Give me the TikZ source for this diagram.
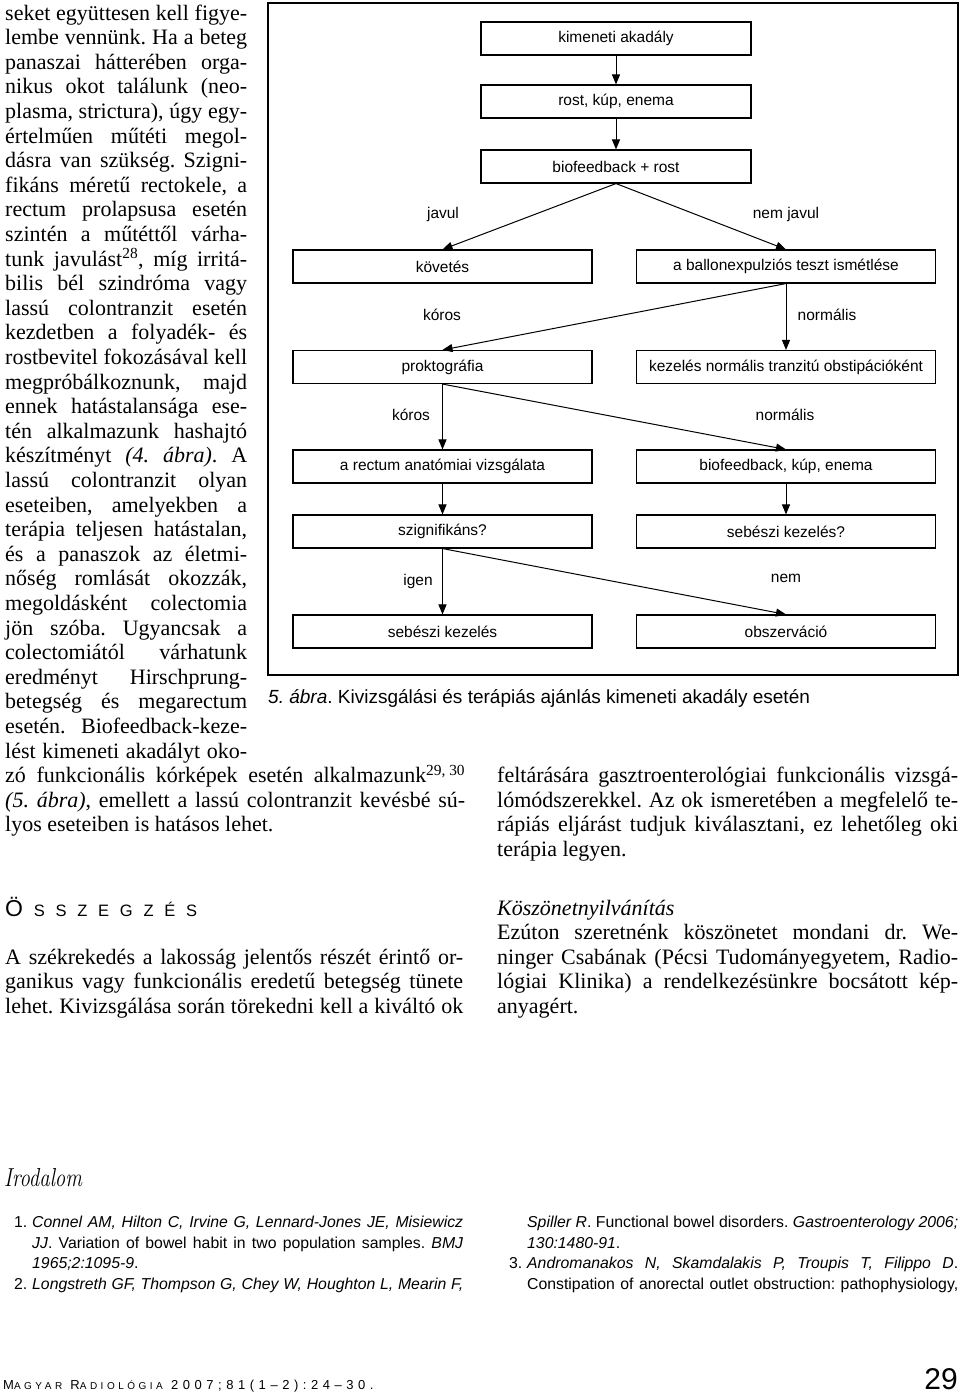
\documentclass[tikz,border=0pt]{standalone}
\usepackage{fontspec}
\setmainfont{Liberation Serif}
\newfontfamily\fsans{Liberation Sans}
\newfontfamily\refsans{Liberation Sans}
\newfontfamily\footsans[LetterSpace=35]{Liberation Sans}
\newfontfamily\irofont[FakeStretch=0.8]{Latin Modern Roman}
\usetikzlibrary{arrows.meta}
\frenchspacing
\newcommand\bodyfont{\fontsize{22}{24.6}\selectfont}
\newcommand\flowfont{\fsans\fontsize{15.5}{18}\selectfont}
\newcommand\reffont{\refsans\fontsize{15.8}{18}\selectfont}
\newcommand\jl[2]{\makebox[#1pt][s]{#2}}
\begin{document}
\begin{tikzpicture}[x=1pt,y=-1pt,
  box/.style={draw, line width=1.1pt, minimum width=299pt, minimum height=33pt, inner sep=0pt, font=\flowfont},
  topbox/.style={box, minimum width=270pt},
  lbl/.style={font=\flowfont, inner sep=0pt},
  arr/.style={line width=1pt, -{Triangle[length=10pt,width=8pt]}},
  txt/.style={anchor=base west, inner sep=0pt, font=\bodyfont},
  reft/.style={anchor=base west, inner sep=0pt, font=\reffont},
  ]
\fill[white] (0,0) rectangle (960,1393);
\useasboundingbox (0,0) rectangle (960,1393);

% ---------- figure frame ----------
\draw[line width=1.5pt] (268,3) rectangle (958,675);

% ---------- flowchart boxes ----------
\node[topbox] (k1) at (616,38.5) {kimeneti akadály};
\node[topbox] (k2) at (616,101.5) {rost, kúp, enema};
\node[topbox] (k3) at (616,166.5) {biofeedback + rost};
\node[box] (kov) at (442.5,266.5) {követés};
\node[box] (bal) at (786,266.5) {a ballonexpulziós teszt ismétlése};
\node[box] (prok) at (442.5,367) {proktográfia};
\node[box] (kez) at (786,367) {kezelés normális tranzitú obstipációként};
\node[box] (rect) at (442.5,466.5) {a rectum anatómiai vizsgálata};
\node[box] (bio) at (786,466.5) {biofeedback, kúp, enema};
\node[box] (szig) at (442.5,531.5) {szignifikáns?};
\node[box] (sebq) at (786,531.5) {sebészi kezelés?};
\node[box] (seb) at (442.5,631.5) {sebészi kezelés};
\node[box] (obs) at (786,631.5) {obszerváció};

% ---------- connectors ----------
\draw[arr] (k1.south) -- (k2.north);
\draw[arr] (k2.south) -- (k3.north);
\draw[arr] (k3.south) -- (kov.north);
\draw[arr] (k3.south) -- (bal.north);
\draw[arr] (bal.south) -- (prok.north);
\draw[arr] (bal.south) -- (kez.north);
\draw[arr] (prok.south) -- (rect.north);
\draw[arr] (prok.south) -- (bio.north);
\draw[arr] (rect.south) -- (szig.north);
\draw[arr] (bio.south) -- (sebq.north);
\draw[arr] (szig.south) -- (seb.north);
\draw[arr] (szig.south) -- (obs.north);

% ---------- connector labels ----------
\node[lbl] (lj) at (443,214) {javul};
\node[lbl] (lnj) at (786,214) {nem javul};
\node[lbl] (lk1) at (442,315) {kóros};
\node[lbl] (ln1) at (827,315) {normális};
\node[lbl] (lk2) at (411,415) {kóros};
\node[lbl] (ln2) at (785,415) {normális};
\node[lbl] (li) at (418,581) {igen};
\node[lbl] (ln) at (786,578) {nem};

% ---------- caption ----------
\node[anchor=base west, inner sep=0pt, font=\fsans\fontsize{19}{21}\selectfont] (cap) at (268,703)
  {\textit{5. ábra}. Kivizsgálási és terápiás ajánlás kimeneti akadály esetén};

% ---------- left column text ----------
\node[txt] (t1) at (5,20.0) {\jl{242}{seket együttesen kell figye-}};
\node[txt] (t2) at (5,44.6) {\jl{242}{lembe vennünk. Ha a beteg}};
\node[txt] (t3) at (5,69.2) {\jl{242}{panaszai hátterében orga-}};
\node[txt] (t4) at (5,93.8) {\jl{242}{nikus okot találunk (neo-}};
\node[txt] (t5) at (5,118.4) {\jl{242}{plasma, strictura), úgy egy-}};
\node[txt] (t6) at (5,143.0) {\jl{242}{értelműen műtéti megol-}};
\node[txt] (t7) at (5,167.6) {\jl{242}{dásra van szükség. Szigni-}};
\node[txt] (t8) at (5,192.2) {\jl{242}{fikáns méretű rectokele, a}};
\node[txt] (t9) at (5,216.8) {\jl{242}{rectum prolapsusa esetén}};
\node[txt] (t10) at (5,241.4) {\jl{242}{szintén a műtéttől várha-}};
\node[txt] (t11) at (5,266.0) {\jl{242}{tunk javulást\textsuperscript{28}, míg irritá-}};
\node[txt] (t12) at (5,290.6) {\jl{242}{bilis bél szindróma vagy}};
\node[txt] (t13) at (5,315.2) {\jl{242}{lassú colontranzit esetén}};
\node[txt] (t14) at (5,339.8) {\jl{242}{kezdetben a folyadék- és}};
\node[txt] (t15) at (5,364.4) {\jl{242}{rostbevitel fokozásával kell}};
\node[txt] (t16) at (5,389.0) {\jl{242}{megpróbálkoznunk, majd}};
\node[txt] (t17) at (5,413.6) {\jl{242}{ennek hatástalansága ese-}};
\node[txt] (t18) at (5,438.2) {\jl{242}{tén alkalmazunk hashajtó}};
\node[txt] (t19) at (5,462.8) {\jl{242}{készítményt \textit{(4. ábra)}. A}};
\node[txt] (t20) at (5,487.4) {\jl{242}{lassú colontranzit olyan}};
\node[txt] (t21) at (5,512.0) {\jl{242}{eseteiben, amelyekben a}};
\node[txt] (t22) at (5,536.6) {\jl{242}{terápia teljesen hatástalan,}};
\node[txt] (t23) at (5,561.2) {\jl{242}{és a panaszok az életmi-}};
\node[txt] (t24) at (5,585.8) {\jl{242}{nőség romlását okozzák,}};
\node[txt] (t25) at (5,610.4) {\jl{242}{megoldásként colectomia}};
\node[txt] (t26) at (5,635.0) {\jl{242}{jön szóba. Ugyancsak a}};
\node[txt] (t27) at (5,659.6) {\jl{242}{colectomiától várhatunk}};
\node[txt] (t28) at (5,684.2) {\jl{242}{eredményt Hirschprung-}};
\node[txt] (t29) at (5,708.8) {\jl{242}{betegség és megarectum}};
\node[txt] (t30) at (5,733.4) {\jl{242}{esetén. Biofeedback-keze-}};
\node[txt] (t31) at (5,758.0) {\jl{242}{lést kimeneti akadályt oko-}};
\node[txt] (t32) at (5,782.6) {\jl{460}{zó funkcionális kórképek esetén alkalmazunk\textsuperscript{29, 30}}};
\node[txt] (t33) at (5,807.2) {\jl{460}{\textit{(5. ábra)}, emellett a lassú colontranzit kevésbé sú-}};
\node[txt] (t34) at (5,831.8) {lyos eseteiben is hatásos lehet.};

% ---------- right column text ----------
\node[txt] (r1) at (497,782.6) {\jl{461}{feltárására gasztroenterológiai funkcionális vizsgá-}};
\node[txt] (r2) at (497,807.2) {\jl{461}{lómódszerekkel. Az ok ismeretében a megfelelő te-}};
\node[txt] (r3) at (497,831.8) {\jl{461}{rápiás eljárást tudjuk kiválasztani, ez lehetőleg oki}};
\node[txt] (r4) at (497,856.4) {terápia legyen.};
\node[txt] (r5) at (497,915) {\textit{Köszönetnyilvánítás}};
\node[txt] (r6) at (497,939.6) {\jl{461}{Ezúton szeretnénk köszönetet mondani dr. We-}};
\node[txt] (r7) at (497,964.2) {\jl{461}{ninger Csabának (Pécsi Tudományegyetem, Radio-}};
\node[txt] (r8) at (497,988.8) {\jl{461}{lógiai Klinika) a rendelkezésünkre bocsátott kép-}};
\node[txt] (r9) at (497,1013.4) {anyagért.};

% ---------- summary ----------
\node[anchor=base west, inner sep=0pt, font=\fsans] (osz) at (5,916)
  {\makebox[192pt][s]{{\fontsize{23}{23}\selectfont Ö}\hfill{\fontsize{16.5}{16.5}\selectfont S\hfill S\hfill Z\hfill E\hfill G\hfill Z\hfill É\hfill S}}};
\node[txt] (s1) at (5,964.2) {\jl{458}{A székrekedés a lakosság jelentős részét érintő or-}};
\node[txt] (s2) at (5,988.8) {\jl{458}{ganikus vagy funkcionális eredetű betegség tünete}};
\node[txt] (s3) at (5,1013.4) {\jl{458}{lehet. Kivizsgálása során törekedni kell a kiváltó ok}};

% ---------- references ----------
\node[anchor=base west, inner sep=0pt, font=\irofont\itshape\fontsize{26}{26}\selectfont] (iro) at (4,1186) {Irodalom};
\node[reft] (n1) at (14,1227) {1.};
\node[reft] (f1) at (32,1227) {\jl{431}{\textit{Connel AM, Hilton C, Irvine G, Lennard-Jones JE, Misiewicz}}};
\node[reft] (f2) at (32,1248) {\jl{431}{\textit{JJ}. Variation of bowel habit in two population samples. \textit{BMJ}}};
\node[reft] (f3) at (32,1268.5) {\textit{1965;2:1095-9}.};
\node[reft] (n2) at (14,1289) {2.};
\node[reft] (f4) at (32,1289) {\jl{431}{\textit{Longstreth GF, Thompson G, Chey W, Houghton L, Mearin F,}}};
\node[reft] (g1) at (527,1227) {\jl{431}{\textit{Spiller R}. Functional bowel disorders. \textit{Gastroenterology 2006;}}};
\node[reft] (g2) at (527,1248) {\textit{130:1480-91}.};
\node[reft] (n3) at (509,1268.5) {3.};
\node[reft] (g3) at (527,1268.5) {\jl{431}{\textit{Andromanakos N, Skamdalakis P, Troupis T, Filippo D}.}};
\node[reft] (g4) at (527,1289) {\jl{431}{Constipation of anorectal outlet obstruction: pathophysiology,}};

% ---------- footer ----------
\node[anchor=base west, inner sep=0pt, font=\footsans\fontsize{13}{13}\selectfont] (foot) at (3,1389)
  {M{\fontsize{10}{10}\selectfont AGYAR} R{\fontsize{10}{10}\selectfont ADIOLÓGIA} 2007;81(1–2):24–30.};
\node[anchor=base east, inner sep=0pt, font=\fsans\fontsize{30}{30}\selectfont] (pg) at (958,1389) {29};
\end{tikzpicture}
\end{document}
